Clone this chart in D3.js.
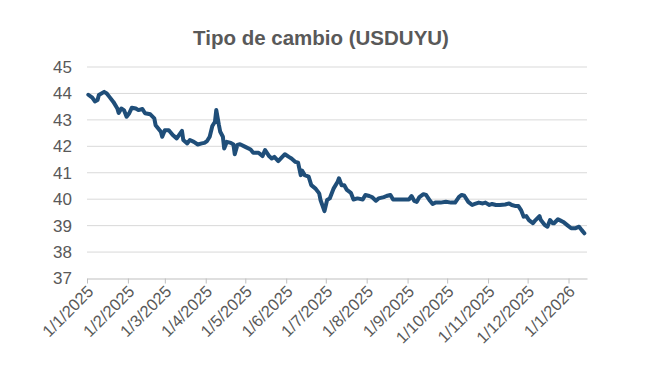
<!DOCTYPE html>
<html>
<head>
<meta charset="utf-8">
<script src="https://cdn.jsdelivr.net/npm/d3@7"></script>
<style>
  html, body { margin: 0; padding: 0; background: #ffffff; }
  svg { display: block; font-family: "Liberation Sans", Arial, sans-serif; }
</style>
</head>
<body>
<svg id="chart" width="645" height="383"></svg>
<script>
const title = "Tipo de cambio (USDUYU)";
const yTicks = [37, 38, 39, 40, 41, 42, 43, 44, 45];
const xTickDates = ["2025-01-01","2025-02-01","2025-03-01","2025-04-01","2025-05-01","2025-06-01",
  "2025-07-01","2025-08-01","2025-09-01","2025-10-01","2025-11-01","2025-12-01","2026-01-01"];
const xTickLabels = ["1/1/2025","1/2/2025","1/3/2025","1/4/2025","1/5/2025","1/6/2025",
  "1/7/2025","1/8/2025","1/9/2025","1/10/2025","1/11/2025","1/12/2025","1/1/2026"];

const dates = [
"2025-01-02","2025-01-05","2025-01-07","2025-01-09","2025-01-10","2025-01-14","2025-01-16","2025-01-18",
"2025-01-21","2025-01-24","2025-01-25","2025-01-27","2025-01-29","2025-01-31","2025-02-02","2025-02-04",
"2025-02-07","2025-02-09","2025-02-12","2025-02-14","2025-02-18","2025-02-21","2025-02-22","2025-02-26",
"2025-02-27","2025-03-01","2025-03-04","2025-03-07","2025-03-10","2025-03-14","2025-03-15","2025-03-18",
"2025-03-20","2025-03-23","2025-03-26","2025-03-29","2025-03-31","2025-04-02","2025-04-04","2025-04-06",
"2025-04-08","2025-04-09","2025-04-11","2025-04-12","2025-04-14","2025-04-15","2025-04-17","2025-04-20",
"2025-04-22","2025-04-23","2025-04-25","2025-04-27","2025-05-01","2025-05-05","2025-05-07","2025-05-11",
"2025-05-14","2025-05-16","2025-05-19","2025-05-21","2025-05-23","2025-05-26","2025-05-29","2025-05-31",
"2025-06-03","2025-06-05","2025-06-08","2025-06-10","2025-06-12","2025-06-13","2025-06-15","2025-06-18",
"2025-06-20","2025-06-23","2025-06-26","2025-06-27","2025-06-30","2025-07-02","2025-07-04","2025-07-07",
"2025-07-10","2025-07-11","2025-07-13","2025-07-15","2025-07-17","2025-07-20","2025-07-22","2025-07-25",
"2025-07-29","2025-07-31","2025-08-03","2025-08-05","2025-08-08","2025-08-10","2025-08-14","2025-08-16",
"2025-08-19","2025-08-21","2025-08-24","2025-08-29","2025-09-02","2025-09-04","2025-09-06","2025-09-08",
"2025-09-10","2025-09-13","2025-09-15","2025-09-18","2025-09-20","2025-09-22","2025-09-26","2025-09-30",
"2025-10-04","2025-10-07","2025-10-10","2025-10-12","2025-10-14","2025-10-17","2025-10-20","2025-10-22",
"2025-10-25","2025-10-28","2025-10-30","2025-11-02","2025-11-04","2025-11-07","2025-11-10","2025-11-14",
"2025-11-17","2025-11-19","2025-11-22","2025-11-24","2025-11-26","2025-11-28","2025-11-30","2025-12-02",
"2025-12-05","2025-12-07","2025-12-10","2025-12-11","2025-12-14","2025-12-16","2025-12-18","2025-12-20",
"2025-12-21","2025-12-24","2025-12-26","2025-12-28","2025-12-31","2026-01-03","2026-01-06","2026-01-09",
"2026-01-11","2026-01-13"];

const values = [
43.95,43.84,43.70,43.75,43.94,44.06,44.00,43.87,
43.68,43.43,43.26,43.43,43.37,43.12,43.25,43.46,
43.43,43.37,43.41,43.25,43.21,43.06,42.80,42.55,
42.36,42.61,42.61,42.43,42.30,42.58,42.24,42.11,
42.24,42.17,42.07,42.11,42.13,42.20,42.36,42.77,
42.93,43.37,42.80,42.55,42.36,41.92,42.17,42.13,
42.07,41.70,42.05,42.08,41.98,41.88,41.76,41.76,
41.63,41.86,41.63,41.54,41.60,41.44,41.60,41.70,
41.60,41.54,41.41,41.38,40.91,41.08,40.91,40.85,
40.53,40.41,40.22,39.97,39.55,39.97,40.03,40.41,
40.66,40.79,40.53,40.53,40.35,40.24,39.99,40.03,
39.99,40.16,40.12,40.08,39.94,40.03,40.08,40.12,
40.16,39.99,39.99,39.99,39.99,40.12,39.94,39.90,
40.08,40.19,40.16,39.94,39.82,39.87,39.87,39.90,
39.87,39.87,40.09,40.16,40.13,39.90,39.78,39.82,
39.87,39.84,39.87,39.78,39.82,39.78,39.78,39.80,
39.84,39.78,39.74,39.74,39.59,39.34,39.36,39.21,
39.09,39.21,39.36,39.21,39.02,38.96,39.21,39.09,
39.09,39.24,39.19,39.14,39.02,38.90,38.90,38.96,
38.83,38.71];

const parse = d3.timeParse("%Y-%m-%d");
const data = dates.map((d, i) => ({ date: parse(d), value: values[i] }));

const svg = d3.select("#chart");
const x = d3.scaleTime()
  .domain([parse("2025-01-01"), parse("2026-01-15")])
  .range([87, 587]);
const y = d3.scaleLinear().domain([37, 45]).range([278.5, 67]);

// title
svg.append("text")
  .attr("x", 321).attr("y", 45)
  .attr("text-anchor", "middle")
  .attr("font-size", 20.5).attr("font-weight", "bold")
  .attr("fill", "#595959")
  .text(title);

// gridlines
svg.append("g")
  .selectAll("line")
  .data(yTicks.filter(t => t !== 37))
  .join("line")
  .attr("x1", 87).attr("x2", 587)
  .attr("y1", d => y(d)).attr("y2", d => y(d))
  .attr("stroke", "#d9d9d9").attr("stroke-width", 1);

// y labels
svg.append("g")
  .selectAll("text")
  .data(yTicks)
  .join("text")
  .attr("x", 72).attr("y", d => y(d))
  .attr("dy", "0.35em")
  .attr("text-anchor", "end")
  .attr("font-size", 17)
  .attr("fill", "#595959")
  .text(d => d);

// x axis
const xAxis = d3.axisBottom(x)
  .tickValues(xTickDates.map(parse))
  .tickFormat((d, i) => xTickLabels[i])
  .tickSize(5)
  .tickSizeOuter(0);
const gx = svg.append("g")
  .attr("transform", `translate(0,${y(37)})`)
  .call(xAxis);
gx.select(".domain").attr("stroke", "#bfbfbf");
gx.selectAll(".tick line").attr("stroke", "#bfbfbf");
gx.selectAll(".tick text")
  .attr("font-size", 16.5)
  .attr("font-family", "Liberation Sans, Arial, sans-serif")
  .attr("fill", "#595959")
  .attr("text-anchor", "end")
  .attr("transform", "translate(3,10) rotate(-45)")
  .attr("dy", "0.35em")
  .attr("y", 0).attr("x", 0);

// line
const line = d3.line().x(d => x(d.date)).y(d => y(d.value));
svg.append("path")
  .datum(data)
  .attr("d", line)
  .attr("fill", "none")
  .attr("stroke", "#1f4e79")
  .attr("stroke-width", 4)
  .attr("stroke-linejoin", "round")
  .attr("stroke-linecap", "round");
</script>
</body>
</html>
